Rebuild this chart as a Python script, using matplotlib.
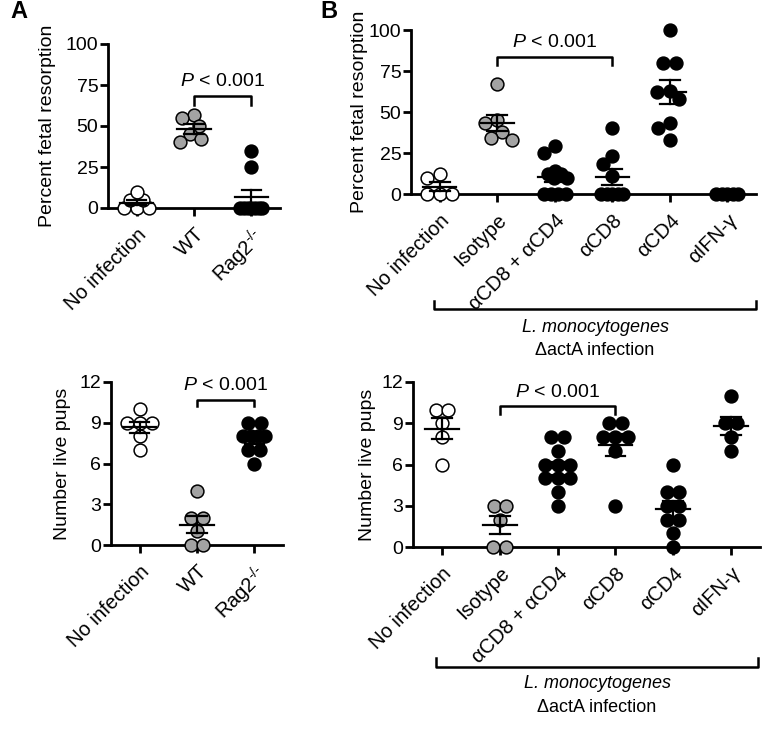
import numpy as np
import matplotlib
matplotlib.use("Agg")
import matplotlib.pyplot as plt
from matplotlib.lines import Line2D

plt.rcParams['font.family'] = ['Liberation Sans', 'DejaVu Sans']
plt.rcParams['mathtext.fontset'] = 'custom'
plt.rcParams['mathtext.rm'] = 'Liberation Sans'
plt.rcParams['mathtext.it'] = 'Liberation Sans:italic'

# ---------------------------------------------------------------
# Data
# ---------------------------------------------------------------
groups_a = ['No infection', 'WT', 'Rag2$^{\u2010/\u2010}$']
groups_b = ['No infection', 'Isotype', 'αCD8 + αCD4', 'αCD8', 'αCD4', 'αIFN-γ']
kinds_a = ['open', 'gray', 'black']
kinds_b = ['open', 'gray', 'black', 'black', 'black', 'black']

resorp_a = [[0, 0, 0, 5, 5, 10],
            [57, 55, 50, 45, 42, 40],
            [35, 25, 0, 0, 0, 0, 0, 0, 0]]
pups_a = [[10, 9, 9, 9, 8, 7],
          [4, 2, 2, 1, 0, 0],
          [9, 9, 8, 8, 8, 8, 7, 7, 6]]
resorp_b = [[12, 10, 0, 0, 0],
            [67, 45, 43, 38, 34, 33],
            [29, 25, 14, 12, 12, 10, 10, 0, 0, 0, 0],
            [40, 23, 18, 11, 0, 0, 0, 0, 0],
            [100, 80, 80, 63, 62, 58, 43, 40, 33],
            [0, 0, 0, 0, 0]]
pups_b = [[10, 10, 9, 8, 6],
          [3, 3, 2, 0, 0],
          [8, 8, 7, 6, 6, 6, 5, 5, 5, 4, 3],
          [9, 9, 8, 8, 8, 7, 3],
          [6, 4, 4, 3, 3, 2, 2, 1, 0],
          [11, 9, 9, 8, 7]]

resorp_ticks = [0, 25, 50, 75, 100]
pups_ticks = [0, 3, 6, 9, 12]

# ---------------------------------------------------------------
# Styling
# ---------------------------------------------------------------
W, H = 769, 731
face = {'open': 'white', 'gray': '#a3a3a3', 'black': 'black'}
FS = 14


def swarm(vals, px_y, d=12.5, maxw=18, maxw_row=11):
    # rows of equal values are laid out symmetrically, then the row is
    # shifted sideways until it clears the points already placed
    vals = np.asarray(vals, dtype=float)
    xs = np.zeros(len(vals))
    placed = []
    for v in sorted(set(vals), reverse=True):
        idx = np.where(vals == v)[0]
        k = len(idx)
        gap = d if k < 4 else min(d, 2 * maxw_row / (k - 1))
        row = (np.arange(k) - (k - 1) / 2) * gap
        y = v * px_y
        lim = max(0.0, maxw - row.max())
        shifts = np.arange(-lim, lim + 0.01, 0.5)
        shifts = shifts[np.argsort(np.abs(shifts), kind='stable')]
        best, bestd = 0.0, -1.0
        for s in shifts:
            if not placed:
                break
            dist = min(np.hypot(rx + s - px, y - py)
                       for rx in row for px, py in placed)
            if dist >= d:
                best = s
                break
            if dist > bestd:
                best, bestd = s, dist
        xs[idx] = row + best
        placed += [(rx + best, y) for rx in row]
    return xs


def panel(box, data, kinds, labels, ticks, ylabel, label_x, bracket):
    l, r, t, b = box
    ax = fig.add_axes([l / W, 1 - b / H, (r - l) / W, (b - t) / H])
    n = len(data)
    ymax = ticks[-1]
    ax.set_xlim(-0.5, n - 0.5)
    ax.set_ylim(0, ymax)
    px_x = (r - l) / n
    px_y = (b - t) / ymax
    for i, vals in enumerate(data):
        vals = np.array(vals, dtype=float)
        offs = swarm(vals, px_y) / px_x
        ax.scatter(i + offs, vals, s=85, facecolor=face[kinds[i]],
                   edgecolor='black', linewidth=1.1, zorder=3, clip_on=False)
        m = vals.mean()
        sem = vals.std(ddof=1) / np.sqrt(len(vals))
        ax.plot([i - 0.29, i + 0.29], [m, m], color='black', lw=1.6, zorder=4,
                clip_on=False)
        ax.plot([i - 0.17, i + 0.17], [m + sem, m + sem], color='black', lw=1.6, zorder=4)
        ax.plot([i - 0.17, i + 0.17], [m - sem, m - sem], color='black', lw=1.6, zorder=4)
        ax.plot([i, i], [m - sem, m + sem], color='black', lw=1.6, zorder=4)
    for s in ['top', 'right']:
        ax.spines[s].set_visible(False)
    for s in ['left', 'bottom']:
        ax.spines[s].set_linewidth(2.0)
    ax.set_yticks(ticks)
    ax.set_xticks(range(n))
    ax.set_xticklabels(labels, rotation=45, ha='right', rotation_mode='anchor',
                       fontsize=14.5)
    ax.tick_params(axis='both', labelsize=FS, width=2.0, length=6, pad=1)
    ax.tick_params(axis='x', pad=6, labelsize=14.5)
    ax.set_ylabel(ylabel, fontsize=FS)
    ax.yaxis.set_label_coords(label_x, 0.5)
    x0, x1, ytop, ylow, ytxt = bracket
    ax.plot([x0, x0, x1, x1], [ylow, ytop, ytop, ylow], color='black', lw=1.8,
            clip_on=False)
    ax.text((x0 + x1) / 2, ytxt, '$P$ < 0.001', ha='center', va='bottom',
            fontsize=FS)
    return ax


def group_bracket(x0, x1, y, ytick, y1, y2):
    fig.add_artist(Line2D([x0 / W, x0 / W, x1 / W, x1 / W],
                          [1 - ytick / H, 1 - y / H, 1 - y / H, 1 - ytick / H],
                          color='black', lw=1.8))
    xc = (x0 + x1) / 2 / W
    fig.text(xc, 1 - y1 / H, 'L. monocytogenes', style='italic', ha='center',
             va='center', fontsize=13)
    fig.text(xc, 1 - y2 / H, 'ΔactA infection', ha='center', va='center',
             fontsize=13)


fig = plt.figure(figsize=(W / 100, H / 100), dpi=100)

panel((108, 280, 44, 208), resorp_a, kinds_a, groups_a, resorp_ticks,
      'Percent fetal resorption', -0.30, (1, 2, 68, 63, 72))
panel((111, 283, 382, 545), pups_a, kinds_a, groups_a, pups_ticks,
      'Number live pups', -0.23, (1, 2, 10.7, 10.2, 11.1))
panel((411, 756, 30, 194), resorp_b, kinds_b, groups_b, resorp_ticks,
      'Percent fetal resorption', -0.125, (1, 3, 83.4, 78.7, 87.5))
panel((413, 760, 382, 547), pups_b, kinds_b, groups_b, pups_ticks,
      'Number live pups', -0.107, (1, 3, 10.24, 9.66, 10.6))

group_bracket(434, 756, 309, 301, 328, 351)
group_bracket(436, 758, 667, 658, 684, 708)

fig.text(10 / W, 1 - 12 / H, 'A', fontsize=17, fontweight='bold', va='center')
fig.text(320 / W, 1 - 12 / H, 'B', fontsize=17, fontweight='bold', va='center')

fig.savefig('out.png', dpi=100)
